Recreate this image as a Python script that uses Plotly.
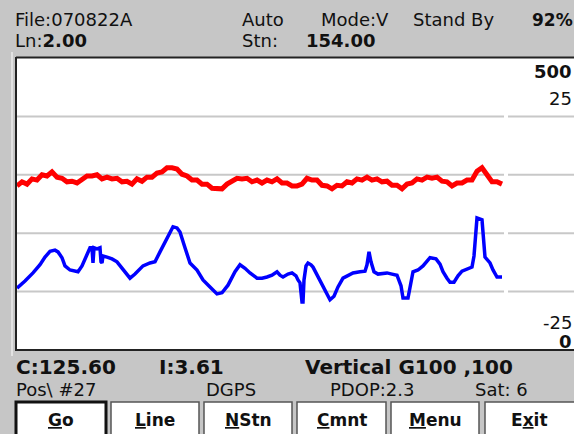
import plotly.graph_objects as go

# ---------------- data ----------------
red_x = list(range(0, 486, 5))
red_y = [281, 288, 284, 293, 291, 300, 298, 305, 296, 294,
         288, 289, 286, 293, 298, 298, 300, 293, 296, 293,
         294, 288, 289, 284, 293, 289, 296, 296, 303, 305,
         312, 312, 310, 301, 298, 291, 291, 284, 284, 277,
         277, 276, 284, 288, 294, 293, 294, 288, 291, 286,
         291, 288, 293, 286, 286, 281, 281, 284, 294, 291,
         291, 282, 281, 276, 282, 281, 288, 286, 293, 291,
         296, 291, 293, 288, 289, 282, 282, 276, 284, 286,
         293, 291, 296, 294, 296, 289, 288, 281, 286, 286,
         291, 291, 306, 312, 298, 288, 288, 284]

blue_x = [0, 8, 16, 23, 28, 33, 38, 41, 45, 48,
          53, 61, 65, 69, 73, 75, 76, 77, 80, 83,
          84, 85, 86, 90, 95, 100, 105, 113, 118, 126,
          133, 138, 143, 148, 153, 156, 160, 163, 168, 173,
          180, 186, 193, 200, 205, 211, 218, 223, 228, 233,
          240, 245, 250, 255, 260, 263, 266, 271, 275, 279,
          281, 283, 285, 286, 287, 289, 291, 294, 296, 301,
          307, 313, 317, 321, 326, 331, 336, 343, 348, 350,
          352, 354, 357, 361, 370, 375, 380, 384, 386, 391,
          393, 396, 401, 406, 413, 419, 423, 426, 430, 433,
          437, 441, 445, 451, 455, 457, 459, 460, 465, 466,
          468, 473, 476, 480, 485]
blue_y = [106, 118, 132, 146, 159, 169, 171, 168, 158, 144,
          137, 134, 144, 161, 175, 175, 149, 175, 173, 175,
          151, 149, 161, 159, 156, 151, 140, 123, 130, 144,
          149, 151, 168, 185, 202, 211, 209, 202, 175, 149,
          137, 120, 108, 96, 98, 111, 134, 146, 140, 132,
          123, 123, 125, 128, 134, 128, 125, 130, 132, 127,
          120, 115, 82, 82, 120, 144, 149, 146, 142, 125,
          104, 86, 92, 108, 123, 128, 132, 134, 135, 146,
          168, 151, 134, 130, 132, 130, 128, 110, 89, 89,
          106, 134, 137, 144, 158, 156, 147, 134, 123, 116,
          116, 127, 135, 139, 142, 161, 197, 226, 223, 197,
          159, 149, 137, 125, 125]
assert len(blue_x) == len(blue_y) and len(red_x) == len(red_y)

grid_levels = [100, 200, 300, 400]
header_left = ["File:070822A", "Ln:<b>2.00</b>"]
scale_labels = [("<b>500</b>", 72), ("25", 98), ("-25", 322), ("<b>0</b>", 341)]
U = '<span style="text-decoration:underline">{}</span>'
buttons = [U.format("G") + "o", U.format("L") + "ine", U.format("N") + "Stn",
           U.format("C") + "mnt", U.format("M") + "enu", "E" + U.format("x") + "it"]

W, H = 574, 434
FONT = "DejaVu Sans"
BG = "#c6c6c6"

fig = go.Figure()
fig.add_trace(go.Scatter(x=red_x, y=red_y, mode="lines",
                         line=dict(color="#ff0000", width=5), hoverinfo="skip"))
fig.add_trace(go.Scatter(x=blue_x, y=blue_y, mode="lines",
                         line=dict(color="#0000ff", width=3.5), hoverinfo="skip"))

shapes = []
# gridlines with a small gap after the data end
for g in grid_levels:
    for x0, x1 in [(0, 487), (491, 557)]:
        shapes.append(dict(type="line", xref="x", yref="y", x0=x0, x1=x1, y0=g, y1=g,
                           line=dict(color="#c8c8c8", width=2), layer="below"))


def px(x):
    return x / W


def py(y):
    return 1 - y / H


# plot frame
shapes.append(dict(type="line", xref="paper", yref="paper", x0=px(16), x1=1,
                   y0=py(57.5), y1=py(57.5), line=dict(color="#222", width=2)))
shapes.append(dict(type="line", xref="paper", yref="paper", x0=px(16), x1=1,
                   y0=py(350), y1=py(350), line=dict(color="#222", width=2)))
shapes.append(dict(type="line", xref="paper", yref="paper", x0=px(16), x1=px(16),
                   y0=py(57), y1=py(351), line=dict(color="#222", width=2)))
shapes.append(dict(type="line", xref="paper", yref="paper", x0=px(12), x1=px(12),
                   y0=py(52), y1=py(356), line=dict(color="#e2e2e2", width=2)))

# buttons
btn_x = [(16, 106), (111, 199), (204, 292), (297, 386), (391, 479), (485, 580)]
for i, (a, b) in enumerate(btn_x):
    shapes.append(dict(type="rect", xref="paper", yref="paper", x0=px(a), x1=px(b),
                       y0=py(436), y1=py(402), fillcolor="white",
                       line=dict(color="#111" if i == 0 else "#555", width=3 if i == 0 else 1.5)))

ann = []


def txt(s, x, y, size=18, anchor="left", color="#111"):
    ann.append(dict(text=s, x=px(x), y=py(y), xref="paper", yref="paper",
                    xanchor=anchor, yanchor="middle", showarrow=False, borderpad=0,
                    font=dict(family=FONT, size=size, color=color)))


# header
txt(header_left[0], 14, 19.5, size=18)
txt(header_left[1], 14, 41, size=18)
txt("Auto", 241, 19.5, size=18)
txt("Mode:V", 320, 19.5, size=18)
txt("Stand By", 412, 19.5, size=18)
txt("<b>92%</b>", 574, 19.5, size=17, anchor="right")
txt("Stn:", 241, 41, size=18)
txt("<b>154.00</b>", 305, 41, size=18)

# right scale labels
for s, y in scale_labels:
    txt(s, 573, y, size=18, anchor="right")

# footer
txt("<b>C:125.60</b>", 15, 367, size=20)
txt("<b>I:3.61</b>", 158, 367, size=20)
txt("<b>Vertical G100 ,100</b>", 304, 367, size=20)
txt("Pos\\ #27", 15, 389, size=18)
txt("DGPS", 205, 389, size=18)
txt("PDOP:2.3", 329, 389, size=18)
txt("Sat: 6", 474, 389, size=18)

for (a, b), s in zip(btn_x, buttons):
    txt("<b>" + s + "</b>", (a + min(b, 574)) / 2, 420, size=17, anchor="center")

fig.update_layout(
    width=W, height=H,
    margin=dict(l=0, r=0, t=0, b=0),
    paper_bgcolor=BG, plot_bgcolor="white",
    showlegend=False,
    xaxis=dict(domain=[17 / W, 1], range=[0, 557], visible=False, fixedrange=True),
    yaxis=dict(domain=[84 / H, 376 / H], range=[0, 500], visible=False, fixedrange=True),
    shapes=shapes, annotations=ann,
)

fig.write_html("out.html", config={"displayModeBar": False},
               post_script="document.body.style.margin='0px';document.body.style.overflow='hidden';")
